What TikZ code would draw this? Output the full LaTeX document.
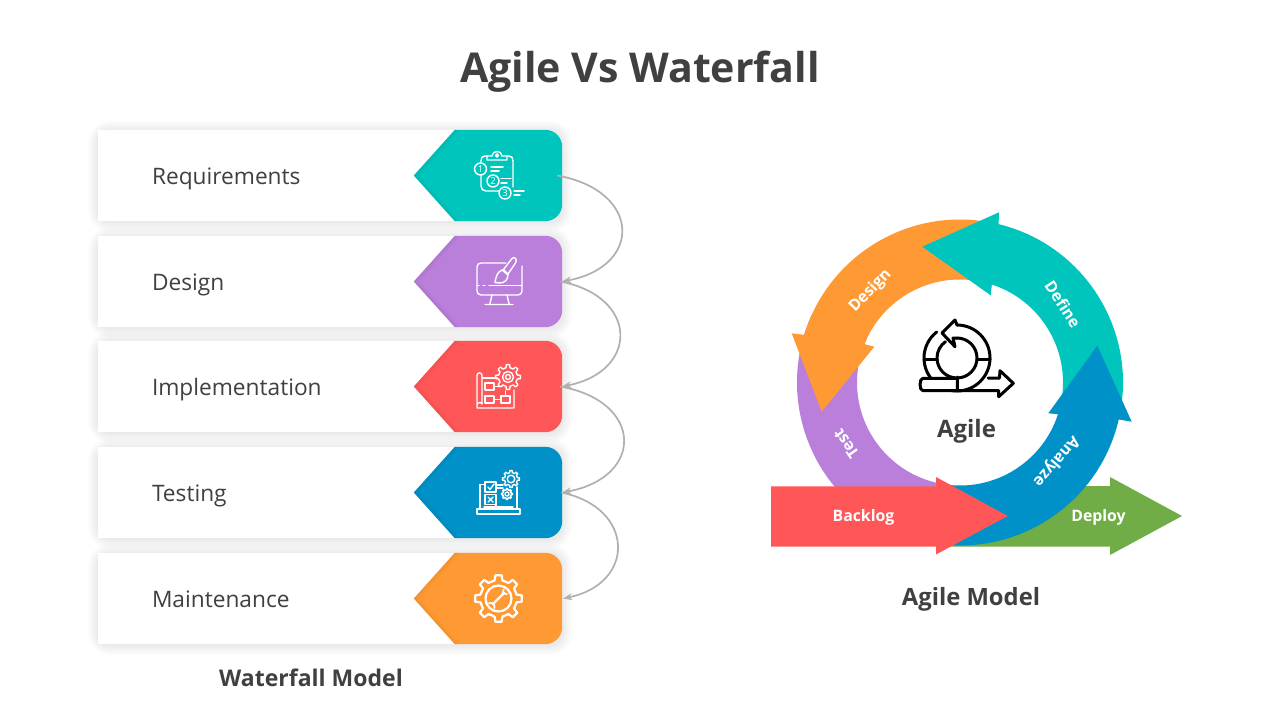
\documentclass[tikz,border=0pt]{standalone}
\usepackage{fontspec}
\setmainfont{Open Sans}
\usepackage{xcolor}
\usetikzlibrary{positioning, arrows.meta, calc}

\definecolor{tealc}{HTML}{00C5BC}
\definecolor{purplec}{HTML}{B97FDA}
\definecolor{redc}{HTML}{FF5757}
\definecolor{bluec}{HTML}{0091C8}
\definecolor{orangec}{HTML}{FF9933}
\definecolor{greenc}{HTML}{70AD47}
\definecolor{darktext}{HTML}{404040}
\definecolor{linkgray}{HTML}{B0B0B0}

\tikzset{
	card/.style={fill=white, minimum width=357pt, minimum height=91pt, inner sep=0pt, text width=249pt, text height=17pt, text depth=0pt, align=left, text=darktext, font=\fontsize{22.7}{27}\selectfont},
	tabbox/.style={minimum width=107pt, minimum height=91pt, inner sep=0pt},
	flowlink/.style={linkgray, line width=1.7pt, -{Stealth[length=9pt,width=7pt]}},
	icon/.style={white, line width=1.4pt, line join=round, line cap=round},
	boldlabel/.style={text=darktext, font=\bfseries\fontsize{23}{27}\selectfont},
	ringlabel/.style={text=white, font=\bfseries\fontsize{15.8}{18}\selectfont},
	agileicon/.style={black, line width=3pt, line join=round, line cap=round}
}

% center, outer radius, root radius, teeth
\newcommand{\gearicon}[4]{
	\begin{scope}[shift={(#1)}]
		\draw[icon] (-0.27*360/#4:#3) \foreach \k [evaluate=\k as \a using (\k-1)*360/#4] in {1,...,#4}{
			-- (\a-0.27*360/#4:#3) -- (\a-0.17*360/#4:#2) -- (\a+0.17*360/#4:#2) -- (\a+0.27*360/#4:#3)
		} -- cycle;
	\end{scope}
}

\begin{document}
\begin{tikzpicture}[x=1pt, y=-1pt]
	\useasboundingbox (0,0) rectangle (1280,720);
	\fill[white] (0,0) rectangle (1280,720);

	% Title
	\node[text=darktext, font=\bfseries\fontsize{41.1}{48}\selectfont] (title) at (640,72) {Agile Vs Waterfall};

	% Soft shadows
	\foreach \y in {175.5,281.5,386.5,492.5,598.5}{
		\foreach \w in {2,5,...,20}{
			\draw[black, opacity=0.013, line width=\w pt, rounded corners=12pt] (98,\y-44.5) rectangle (562,\y+46.5);
		}
	}

	% Cards and tabs
	\foreach \cardname/\y/\tabcolor/\cardtext in {requirements/175.5/tealc/Requirements, design/281.5/purplec/Design, implementation/386.5/redc/Implementation, testing/492.5/bluec/Testing, maintenance/598.5/orangec/Maintenance}{
		\node[card] (\cardname) at (276.5,\y) {\cardtext};
		\node[tabbox] (\cardname tab) at (508.5,\y) {};
		\fill[\tabcolor] ($(\cardname tab.west)+(-41,0)$) -- (\cardname tab.north west) [rounded corners=17pt] -- (\cardname tab.north east) -- (\cardname tab.south east) [sharp corners] -- (\cardname tab.south west) -- cycle;
		\foreach \w in {1.5,3,4.5,6}{
			\fill[black, opacity=0.012] (\cardname tab.north west) -- ($(\cardname tab.west)+(-41,0)$) -- (\cardname tab.south west) -- ($(\cardname tab.south west)+(\w,0)$) -- ($(\cardname tab.west)+(-41+\w,0)$) -- ($(\cardname tab.north west)+(\w,0)$) -- cycle;
		}
	}

	% Links
	\draw[flowlink] ([xshift=-5pt]requirementstab.east) .. controls +(84,15) and +(81,-15) .. (designtab.east);
	\draw[flowlink] ([xshift=-2pt]designtab.east) .. controls +(79,15) and +(77,-15) .. (implementationtab.east);
	\draw[flowlink] ([xshift=-2pt]implementationtab.east) .. controls +(84,15) and +(82,-15) .. (testingtab.east);
	\draw[flowlink] ([xshift=-1pt]testingtab.east) .. controls +(74,15) and +(73,-15) .. ([xshift=1pt]maintenancetab.east);

	% Icon clipboard
	\draw[icon] (487,156) -- (485,156) .. controls (482,156) and (481,158) .. (481,161) -- (481,163);
	\draw[icon] (481,175) -- (481,186) .. controls (481,189) and (483,191) .. (486,191) -- (499,191);
	\draw[icon] (507,156) -- (509,156) .. controls (512,156) and (513,158) .. (513,161) -- (513,187);
	\draw[icon] (487,160) -- (487,156) -- (492,156) .. controls (492,150) and (502,150) .. (502,156) -- (507,156) -- (507,160) -- cycle;
	\draw[icon] (497,155.5) circle (1.6);
	\foreach \nx/\ny/\numtext in {480.5/169/1, 493/181/2, 505/193/3}{
		\node[circle, draw=white, line width=1.4pt, minimum size=12pt, inner sep=0pt, text=white, font=\fontsize{9.5}{9.5}\selectfont] (num\numtext) at (\nx,\ny) {\numtext};
	}
	\draw[icon] (491,167) -- (503,167) (491,171) -- (499,171) (501,178.5) -- (511,178.5) (501,183) -- (507,183) (514,191) -- (524,191) (514,195) -- (520,195);

	% Icon monitor
	\draw[icon] (506,263) -- (481,263) .. controls (478.5,263) and (477,264.5) .. (477,267) -- (477,291) .. controls (477,293) and (478.5,295) .. (481,295) -- (518,295) .. controls (520.5,295) and (522,293) .. (522,291) -- (522,266);
	\draw[icon] (477,285.5) -- (479,285.5) (483,285.5) -- (485,285.5) (489,285.5) -- (522,285.5);
	\draw[icon] (492,295) -- (490,303.5) (507,295) -- (509,303.5) (485,304.5) -- (513,304.5);
	\draw[icon] (508,274) -- (515.5,263) .. controls (518,259) and (514,256) .. (512,258.5) -- (503.5,269.5) -- cycle;
	\draw[icon] (502,270) -- (508,275) .. controls (508,280) and (504,283) .. (500,283) -- (495,282.5) .. controls (496,277) and (497,272) .. (502,270) -- cycle;

	% Icon blueprint
	\draw[icon] (482,378) -- (497,378);
	\draw[icon] (477,404) -- (477,375.5) .. controls (477,372) and (482,372) .. (482,375.5) -- (482,404) .. controls (482,402) and (477,402) .. (477,405) -- (477,408) -- (514,408) -- (514,390);
	\draw[icon] (485,383) rectangle (494,390) (485,396) rectangle (494,403) (501,396) rectangle (510,403);
	\draw[icon] (494,386.5) -- (502,386.5) (494,399.5) -- (501,399.5) (505.5,396) -- (505.5,391);
	\gearicon{508,377}{12.5}{9.5}{8}
	\draw[icon] (508,377) circle (5.5) (508,377) circle (2.5);

	% Icon laptop
	\draw[icon] (480,509) -- (480,484.5) -- (485,484.5) (517,487) -- (517,509);
	\draw[icon] (496,504) -- (496,507) (484,507) -- (513,507);
	\draw[icon] (477,509) rectangle (520,514);
	\draw[icon] (485,482) rectangle (496,492) (485,494.5) rectangle (496,504.5);
	\draw[icon] (488,487) -- (490,489.5) -- (494,484) (488,497) -- (493,502) (493,497) -- (488,502);
	\draw[icon] (496,485) -- (503,485) (496,488) -- (503,488);
	\gearicon{511,479}{8.5}{6.5}{8}
	\draw[icon] (511,479) circle (3.8);
	\gearicon{507,494}{5.5}{4.2}{8}
	\draw[icon] (507,494) circle (2);

	% Icon gear
	\begin{scope}[icon/.append style={line width=2.2pt}]
		\gearicon{498.5,598.5}{23.5}{18.5}{8}
		\draw[icon] (498.5,598.5) circle (13);
		\draw[icon] (493,604) -- (504,593);
		\draw[icon, line width=1.8pt] (503.5,589.5) -- (503,593.5) -- (507,594) (489,603) -- (494,603.5) -- (494.5,608);
	\end{scope}

	% Left caption
	\node[boldlabel] (waterfall) at (311,678) {Waterfall Model};

	% Deploy arrow
	\fill[greenc] (950,486) -- (1110,486) -- (1110,477) -- (1182,516) -- (1110,555) -- (1110,546.5) -- (950,546.5) -- cycle;

	% Ring arrows
	\begin{scope}[shift={(960,382.5)}]
		\fill[purplec] (205:163) arc[start angle=205, end angle=100, radius=163] -- (100:103) arc[start angle=100, end angle=205, radius=103] -- cycle;
		\fill[orangec] (277:163) arc[start angle=277, end angle=197, radius=163] -- (-168.3,-49.2) -- (-138.3,29.2) -- (-85.7,-35.8) -- (201.9:103) arc[start angle=201.9, end angle=277, radius=103] -- cycle;
		\fill[tealc] (10:163) arc[start angle=10, end angle=-76.3, radius=163] -- (39,-170.2) -- (-37.7,-135.8) -- (30.7,-87.2) -- (-72:103) arc[start angle=-72, end angle=10, radius=103] -- cycle;
		\fill[bluec] (96:163) arc[start angle=96, end angle=13.1, radius=163] -- (171.7,39.2) -- (137.3,-36.8) -- (88.3,30.8) -- (17.9:103) arc[start angle=17.9, end angle=96, radius=103] -- cycle;
	\end{scope}

	% Backlog arrow
	\fill[redc] (771,486.3) -- (936,486.3) -- (936,477) -- (1007.7,516) -- (936,554.5) -- (936,546.7) -- (771,546.7) -- cycle;

	% Ring labels
	\node[ringlabel, rotate=46] (designlabel) at (870.5,291) {Design};
	\node[ringlabel, rotate=-57] (definelabel) at (1063,304) {Define};
	\node[ringlabel, rotate=125] (testlabel) at (846,444) {Test};
	\node[ringlabel, rotate=229] (analyzelabel) at (1056,461) {Analyze};
	\node[ringlabel] (backloglabel) at (863.5,517.5) {Backlog};
	\node[ringlabel] (deploylabel) at (1098.5,517.5) {Deploy};

	% Agile icon
	\draw[agileicon] (957,325) arc[start angle=-90, end angle=232, radius=33];
	\draw[agileicon] (957,338) arc[start angle=-90, end angle=235, radius=20];
	\draw[agileicon] (924,359) -- (937,359) (977,359) -- (990,359) (957.3,377) -- (957.3,390.7);
	\draw[agileicon] (957,325) -- (955,320) -- (942,333) -- (955,346.7) -- (953,338) -- (957,338);
	\draw[agileicon, fill=white] (957.3,390.7) -- (923,390.7) .. controls (919,390.7) and (919,378.3) .. (923,378.3) -- (957.3,378.3) -- cycle;
	\draw[agileicon] (957.3,390.7) -- (998.7,390.7) -- (998.7,396.7) -- (1013.3,383.3) -- (1000,370.7) -- (999.5,378) -- (988,378);

	% Agile captions
	\node[boldlabel, font=\bfseries\fontsize{24}{27}\selectfont] (agilelabel) at (966.5,431) {Agile};
	\node[boldlabel, font=\bfseries\fontsize{23.8}{27}\selectfont] (agilemodel) at (971,599) {Agile Model};
\end{tikzpicture}
\end{document}
